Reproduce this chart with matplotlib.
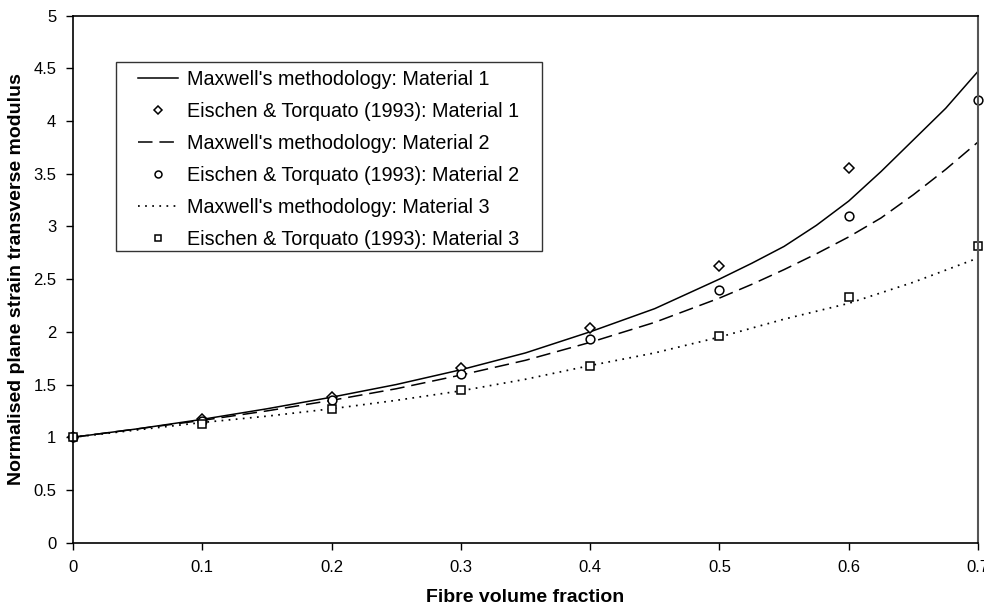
import matplotlib
matplotlib.use("Agg")
import matplotlib.pyplot as plt
from matplotlib.patches import Rectangle

plt.rcParams['font.family'] = ['Liberation Sans', 'DejaVu Sans']

# Maxwell's methodology curves
vf_curve_a = [0.0, 0.05, 0.1, 0.15, 0.2, 0.25, 0.3, 0.35, 0.4, 0.45, 0.5,
              0.525, 0.55, 0.575, 0.6, 0.625, 0.65, 0.675, 0.7]
maxwell_m1 = [1.00, 1.08, 1.17, 1.27, 1.38, 1.50, 1.64, 1.80, 2.00, 2.22, 2.50,
              2.65, 2.81, 3.01, 3.24, 3.52, 3.82, 4.12, 4.47]
maxwell_m2 = [1.00, 1.08, 1.16, 1.25, 1.35, 1.46, 1.59, 1.73, 1.90, 2.09, 2.32,
              2.45, 2.59, 2.74, 2.90, 3.08, 3.30, 3.54, 3.80]
vf_curve_b = [0.0, 0.05, 0.1, 0.15, 0.2, 0.25, 0.3, 0.35, 0.4, 0.45, 0.5, 0.55, 0.6, 0.65, 0.7]
maxwell_m3 = [1.00, 1.07, 1.14, 1.20, 1.27, 1.35, 1.44, 1.55, 1.68, 1.80, 1.95, 2.12, 2.27, 2.47, 2.70]

# Eischen & Torquato (1993) points
vf_pts_m1 = [0.0, 0.1, 0.2, 0.3, 0.4, 0.5, 0.6]
et_m1 = [1.00, 1.17, 1.38, 1.66, 2.04, 2.62, 3.55]
vf_pts = [0.0, 0.1, 0.2, 0.3, 0.4, 0.5, 0.6, 0.7]
et_m2 = [1.00, 1.15, 1.35, 1.60, 1.93, 2.40, 3.10, 4.20]
et_m3 = [1.00, 1.13, 1.27, 1.45, 1.68, 1.96, 2.33, 2.81]

W, H = 984, 608
fig = plt.figure(figsize=(W / 100, H / 100), dpi=100)
ax = fig.add_axes([73 / W, 1 - 542.7 / H, 905 / W, 527.2 / H])

lw = 1.1
ax.plot(vf_curve_a, maxwell_m1, color='black', lw=lw, ls='-',
        label="Maxwell's methodology: Material 1")
ax.plot(vf_pts_m1, et_m1, ls='none', marker='D', ms=5, mfc='white', mec='black',
        mew=1.1, clip_on=False, label='Eischen & Torquato (1993): Material 1')
ax.plot(vf_curve_a, maxwell_m2, color='black', lw=lw, ls=(0, (9.5, 4.5)),
        label="Maxwell's methodology: Material 2")
ax.plot(vf_pts, et_m2, ls='none', marker='o', ms=6.3, mfc='white', mec='black',
        mew=1.1, clip_on=False, label='Eischen & Torquato (1993): Material 2')
ax.plot(vf_curve_b, maxwell_m3, color='black', lw=1.25, ls=(0, (1, 3.1)),
        label="Maxwell's methodology: Material 3")
ax.plot(vf_pts, et_m3, ls='none', marker='s', ms=6, mfc='white', mec='black',
        mew=1.1, clip_on=False, label='Eischen & Torquato (1993): Material 3')

ax.set_xlim(0, 0.7)
ax.set_ylim(0, 5)
ax.set_xticks([0, 0.1, 0.2, 0.3, 0.4, 0.5, 0.6, 0.7])
ax.set_xticklabels(['0', '0.1', '0.2', '0.3', '0.4', '0.5', '0.6', '0.7'])
ax.set_yticks([0, 0.5, 1, 1.5, 2, 2.5, 3, 3.5, 4, 4.5, 5])
ax.set_yticklabels(['0', '0.5', '1', '1.5', '2', '2.5', '3', '3.5', '4', '4.5', '5'])
ax.tick_params(direction='out', length=5, width=1, labelsize=12, pad=7)
ax.tick_params(axis='x', pad=7.5)
for side in ['left', 'bottom', 'top']:
    ax.spines[side].set_linewidth(1.2)
ax.spines['right'].set_color('#555555')
ax.spines['right'].set_linewidth(1.5)

ax.set_xlabel('Fibre volume fraction', fontsize=14, fontweight='bold', labelpad=10)
ax.set_ylabel('Normalised plane strain transverse modulus', fontsize=14,
              fontweight='bold', labelpad=6)

# legend box drawn by hand (Excel style: wide side padding, tight top/bottom)
box = Rectangle((116 / W, 1 - 251 / H), 426 / W, 189 / H, transform=fig.transFigure,
                facecolor='white', edgecolor='#333333', lw=1.0, zorder=4, clip_on=False)
ax.add_patch(box)

leg = ax.legend(loc='upper left', bbox_to_anchor=(138 / W, 1 - 70 / H),
                bbox_transform=fig.transFigure, fontsize=14.2, frameon=False,
                handlelength=2.05, handletextpad=0.45, labelspacing=0.655,
                borderpad=0, borderaxespad=0)
leg.set_zorder(5)
legend_ms = [None, 4.0, None, 5.0, None, 5.0]
for line, ms in zip(leg.get_lines(), legend_ms):
    if ms is not None:
        line.set_markersize(ms)

fig.savefig('out.png', dpi=100)
